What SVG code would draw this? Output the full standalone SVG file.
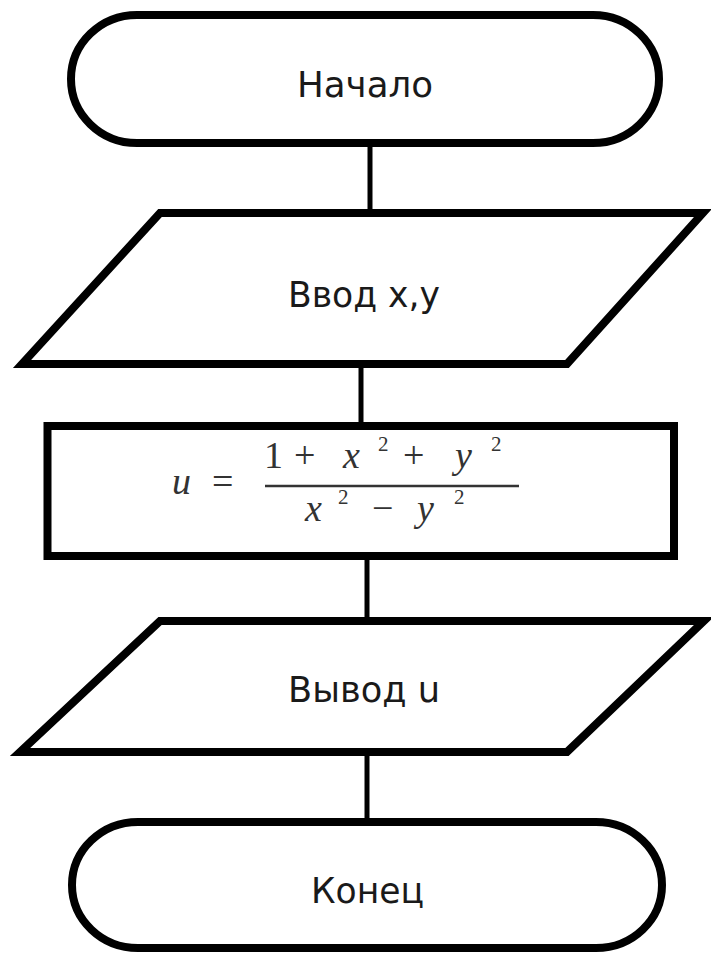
<svg xmlns="http://www.w3.org/2000/svg" width="711" height="954" viewBox="0 0 711 954">
<style>
.shape{fill:#fff;stroke:#000;stroke-width:8;stroke-linejoin:miter}
.conn{stroke:#000;stroke-width:5;fill:none}
.lbl{font-family:"DejaVu Sans Condensed","DejaVu Sans",sans-serif;font-size:35px;fill:#1a1a1a}
.m{font-family:"Liberation Serif",serif;font-style:italic;font-size:38px;fill:#333}
.mu{font-family:"Liberation Serif",serif;font-size:38px;fill:#333}
.sup{font-family:"Liberation Serif",serif;font-size:21px;fill:#333}
</style>
<rect width="711" height="954" fill="#fff"/>
<g id="connectors">
<line class="conn" x1="370" y1="143" x2="370" y2="213"/>
<line class="conn" x1="361" y1="364" x2="361" y2="426"/>
<line class="conn" x1="367" y1="556" x2="367" y2="621"/>
<line class="conn" x1="367" y1="752" x2="367" y2="822"/>
</g>
<g id="start">
<rect class="shape" x="71" y="15" width="588" height="128" rx="66" ry="64"/>
<text class="lbl" x="297" y="97" textLength="136" lengthAdjust="spacingAndGlyphs">Начало</text>
</g>
<g id="input">
<polygon class="shape" points="160,213 703,213 567,364 22,364"/>
<text class="lbl" x="288" y="307" textLength="152" lengthAdjust="spacingAndGlyphs">Ввод x,y</text>
</g>
<g id="process">
<rect class="shape" x="47.5" y="426" width="626.5" height="130"/>
<text class="m" x="172" y="494">u</text>
<text class="mu" x="212" y="494">=</text>
<text class="mu" x="264" y="468">1</text>
<text class="mu" x="294" y="468">+</text>
<text class="m" x="343" y="468">x</text>
<text class="sup" x="378" y="451">2</text>
<text class="mu" x="403" y="468">+</text>
<text class="m" x="455" y="468">y</text>
<text class="sup" x="491" y="451">2</text>
<line x1="265" y1="486" x2="519" y2="486" stroke="#333" stroke-width="2.5"/>
<text class="m" x="305" y="521">x</text>
<text class="sup" x="338" y="504">2</text>
<text class="mu" x="372" y="521">−</text>
<text class="m" x="417" y="521">y</text>
<text class="sup" x="454" y="504">2</text>
</g>
<g id="output">
<polygon class="shape" points="160,621 704,621 567,752 20,752"/>
<text class="lbl" x="288" y="702" textLength="152" lengthAdjust="spacingAndGlyphs">Вывод u</text>
</g>
<g id="end">
<rect class="shape" x="72" y="822" width="590" height="126" rx="66" ry="63"/>
<text class="lbl" x="311" y="903" textLength="113" lengthAdjust="spacingAndGlyphs">Конец</text>
</g>
</svg>
